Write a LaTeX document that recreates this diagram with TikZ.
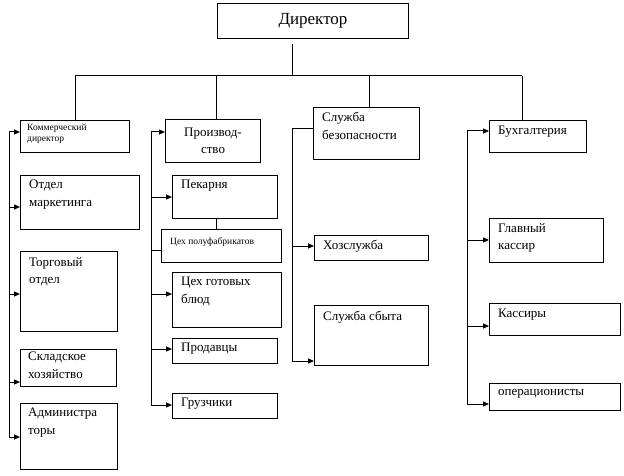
\documentclass[tikz,border=0pt]{standalone}
\usepackage{fontspec}
\setmainfont{Liberation Serif}
\usetikzlibrary{arrows.meta}
\tikzset{
  box/.style={draw, line width=1pt, inner sep=0pt, anchor=north west},
  txt/.style={anchor=north west, inner sep=0pt, align=left, font=\fontsize{13}{17.5}\selectfont},
  sml/.style={anchor=north west, inner sep=0pt, align=left, font=\fontsize{9.5}{11}\selectfont},
  ln/.style={line width=1pt},
  arr/.style={line width=1pt, -{Triangle[length=6pt,width=5pt]}}
}
\newcommand{\bx}[5]{\node[box, minimum width={(#4-#2)*1pt}, minimum height={(#5-#3)*1pt}] (#1) at (#2,#3) {};}
\begin{document}
\begin{tikzpicture}[x=1pt,y=-1pt]
\useasboundingbox (0,0) rectangle (624,476);
% boxes
\bx{dir}{217}{3}{408}{38}
\node[font=\fontsize{17}{18}\selectfont] at (dir.center) {Директор};
\bx{kom}{20}{120}{129}{152}
\node[sml] at (27,124) {Коммерческий\\директор};
\bx{mark}{20}{175}{139}{229}
\node[txt] at (29,180) {Отдел\\маркетинга};
\bx{torg}{20}{251}{117}{331}
\node[txt] at (29,257) {Торговый\\отдел};
\bx{skl}{20}{349}{116}{386}
\node[txt] at (28,352) {Складское\\хозяйство};
\bx{adm}{20}{403}{117}{469}
\node[txt] at (28,408) {Администра\\торы};
\bx{proi}{165}{119}{260}{162}
\node[txt, anchor=center, align=center] at (proi.center) {Производ-\\ство};
\bx{pek}{172}{175}{277}{218}
\node[txt] at (181,180) {Пекарня};
\bx{cpf}{161}{229}{281}{262}
\node[sml] at (170,237) {Цех полуфабрикатов};
\bx{cgb}{172}{272}{281}{327}
\node[txt] at (181,277) {Цех готовых\\блюд};
\bx{prod}{172}{338}{277}{363}
\node[txt] at (181,343) {Продавцы};
\bx{gruz}{172}{393}{277}{418}
\node[txt] at (181,398) {Грузчики};
\bx{sb}{313}{107}{419}{159}
\node[txt] at (322,112) {Служба\\безопасности};
\bx{hoz}{314}{235}{428}{260}
\node[txt] at (323,240) {Хозслужба};
\bx{sbyt}{314}{305}{428}{365}
\node[txt] at (323,311) {Служба сбыта};
\bx{buh}{489}{120}{586}{152}
\node[txt] at (498,126) {Бухгалтерия};
\bx{gk}{489}{218}{603}{262}
\node[txt] at (498,223) {Главный\\кассир};
\bx{kas}{489}{303}{620}{335}
\node[txt] at (498,309) {Кассиры};
\bx{oper}{489}{383}{620}{410}
\node[txt] at (498,389) {операционисты};
% top tree
\coordinate (j0) at (292,76);
\coordinate (hl) at (75,76);
\coordinate (hr) at (522,76);
\draw[ln] (292,44) -- (j0);
\draw[ln] (hl) -- (hr);
\draw[ln] (hl) -- (hl |- kom.north);
\draw[ln] (216,76) -- (216,76 |- proi.north);
\draw[ln] (369,76) -- (369,76 |- sb.north);
\draw[ln] (hr) -- (hr |- buh.north);
% left bus
\coordinate (L1) at (9,132);
\coordinate (L5) at (9,437);
\draw[ln] (L1) -- (L5);
\draw[arr] (L1) -- (L1 -| kom.west);
\draw[arr] (9,207) -- (9,207 -| mark.west);
\draw[arr] (9,294) -- (9,294 -| torg.west);
\draw[arr] (9,382) -- (9,382 -| skl.west);
\draw[arr] (L5) -- (L5 -| adm.west);
% middle bus
\coordinate (M1) at (151,132);
\coordinate (M6) at (151,405);
\draw[ln] (M1) -- (M6);
\draw[arr] (M1) -- (M1 -| proi.west);
\draw[arr] (151,197) -- (151,197 -| pek.west);
\draw[ln] (151,250) -- (151,250 -| cpf.west);
\draw[ln] (216,218) -- (216,229);
\draw[arr] (151,294) -- (151,294 -| cgb.west);
\draw[arr] (151,349) -- (151,349 -| prod.west);
\draw[arr] (M6) -- (M6 -| gruz.west);
% security bus
\coordinate (S0) at (292,129);
\coordinate (S2) at (292,361);
\draw[ln] (S0 -| sb.west) -- (S0) -- (S2);
\draw[arr] (292,246) -- (292,246 -| hoz.west);
\draw[arr] (S2) -- (S2 -| sbyt.west);
% bukh bus
\coordinate (B1) at (467,131);
\coordinate (B4) at (467,404);
\draw[ln] (B1) -- (B4);
\draw[arr] (B1) -- (B1 -| buh.west);
\draw[arr] (467,240) -- (467,240 -| gk.west);
\draw[arr] (467,326) -- (467,326 -| kas.west);
\draw[arr] (B4) -- (B4 -| oper.west);
\end{tikzpicture}
\end{document}
